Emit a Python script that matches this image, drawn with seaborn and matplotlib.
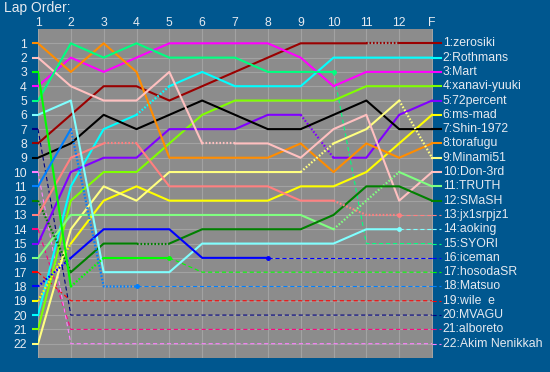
import numpy as np
import pandas as pd
import seaborn as sns
import matplotlib.pyplot as plt

lap_labels = ["1", "2", "3", "4", "5", "6", "7", "8", "9", "10", "11", "12", "F"]

# position of each driver at the end of laps 1..12 and at the finish
zerosiki = [8, 6, 4, 4, 5, 4, 3, 2, 1, 1, 1, 1, 1]
rothmans = [20, 11, 7, 6, 4, 3, 4, 4, 4, 2, 2, 2, 2]
mart = [4, 2, 3, 2, 1, 1, 1, 1, 2, 4, 3, 3, 3]
xanavi = [21, 12, 10, 10, 8, 6, 5, 5, 5, 5, 4, 4, 4]
percent72 = [15, 10, 9, 9, 7, 7, 7, 6, 6, 9, 9, 6, 5]
msmad = [19, 15, 12, 11, 12, 12, 12, 12, 11, 11, 10, 8, 6]
shin = [9, 8, 6, 7, 6, 5, 6, 7, 7, 6, 5, 7, 7]
torafugu = [1, 3, 1, 3, 9, 9, 9, 9, 8, 10, 8, 9, 8]
minami = [22, 14, 11, 12, 10, 10, 10, 10, 10, 8, 7, 5, 9]
don = [2, 4, 5, 5, 3, 8, 8, 8, 9, 7, 6, 12, 10]
truth = [16, 13, 13, 13, 13, 13, 13, 13, 13, 14, 12, 10, 11]
smash = [12, 17, 15, 15, 15, 14, 14, 14, 14, 13, 11, 11, 12]
jx1 = [13, 9, 8, 8, 11, 11, 11, 11, 12, 12, 13, 13, 13]
aoking = [6, 5, 17, 17, 17, 15, 15, 15, 15, 15, 14, 14, 14]
syori = [5, 1, 2, 1, 2, 2, 2, 3, 3, 3, 15, 15, 15]
iceman = [18, 16, 14, 14, 14, 16, 16, 16, 16, 16, 16, 16, 16]
hosoda = [3, 18, 16, 16, 16, 17, 17, 17, 17, 17, 17, 17, 17]
matsuo = [11, 7, 18, 18, 18, 18, 18, 18, 18, 18, 18, 18, 18]
wile = [17, 19, 19, 19, 19, 19, 19, 19, 19, 19, 19, 19, 19]
mvagu = [7, 20, 20, 20, 20, 20, 20, 20, 20, 20, 20, 20, 20]
alboreto = [14, 21, 21, 21, 21, 21, 21, 21, 21, 21, 21, 21, 21]
akim = [10, 22, 22, 22, 22, 22, 22, 22, 22, 22, 22, 22, 22]

names = ["zerosiki", "Rothmans", "Mart", "xanavi-yuuki", "72percent", "ms-mad",
         "Shin-1972", "torafugu", "Minami51", "Don-3rd", "TRUTH", "SMaSH",
         "jx1srpjz1", "aoking", "SYORI", "iceman", "hosodaSR", "Matsuo",
         "wile  e", "MVAGU", "alboreto", "Akim Nenikkah"]
series = [zerosiki, rothmans, mart, xanavi, percent72, msmad, shin, torafugu,
          minami, don, truth, smash, jx1, aoking, syori, iceman, hosoda,
          matsuo, wile, mvagu, alboreto, akim]

# lap after which the driver dropped out
retired = {"jx1srpjz1": 12, "aoking": 12, "SYORI": 10, "iceman": 8,
           "hosodaSR": 5, "Matsuo": 4, "wile  e": 1, "MVAGU": 1,
           "alboreto": 1, "Akim Nenikkah": 1}
# dotted lap segments (segment i runs from lap i to lap i+1)
dotted = {"zerosiki": [11], "Rothmans": [4], "72percent": [9], "ms-mad": [1],
          "Minami51": [9, 12], "Don-3rd": [6], "TRUTH": [10, 11],
          "SMaSH": [1, 4], "jx1srpjz1": [3, 10, 11], "iceman": [1],
          "hosodaSR": [2], "Matsuo": [2, 3]}

colors = ["#9a0000", "#00ffff", "#ff00ff", "#80ff00", "#8000ff", "#ffff00",
          "#000000", "#ff8c00", "#ffff80", "#ffc0c0", "#80ff80", "#008000",
          "#ff8080", "#80ffff", "#00ff80", "#0000ff", "#00ff00", "#0080ff",
          "#ff0000", "#000080", "#ff0080", "#ff80ff"]

bg = "#00578f"
txt = "#e6eaf0"
plt.rcParams["font.family"] = ["Liberation Sans", "DejaVu Sans"]
plt.rcParams["lines.scale_dashes"] = False

fig = plt.figure(figsize=[5.5, 3.72], dpi=100, facecolor=bg)
ax = fig.add_axes([38 / 550, 1 - 358 / 372, 395 / 550, 329 / 372])
ax.set_facecolor("#8c8c8c")
for s in ax.spines.values():
    s.set_visible(False)

laps = np.arange(1, 14)
ax.set_xlim(1, 13.03)
ax.set_ylim(23, 0)
ax.set_xticks(laps)
ax.set_xticklabels(lap_labels)
ax.set_yticks(np.arange(1, 23))
ax.set_yticklabels([str(i) for i in range(1, 23)])
ax.xaxis.tick_top()
ax.tick_params(axis="x", length=0, pad=0.3, labelsize=8.8, labelcolor=txt)
ax.tick_params(axis="y", length=0, pad=8, labelsize=8.8, labelcolor=txt)
ax.grid(True, color="#a2a2a2", lw=0.8)
ax.set_axisbelow(True)

def seg_style(name, i):
    r = retired.get(name)
    if r is not None and i >= r:
        return "dashed"
    if i in dotted.get(name, []):
        return "dotted"
    return "solid"

styles = {"solid": dict(lw=1.5, linestyle="-", zorder=3),
          "dotted": dict(lw=1.6, linestyle=(0, (1.2, 1.3)), zorder=3),
          "dashed": dict(lw=0.8, linestyle=(0, (3, 2)), zorder=2)}

for k, (name, pos, c) in enumerate(zip(names, series, colors)):
    # group consecutive segments with the same style
    runs = []
    for i in range(1, 13):
        st = seg_style(name, i)
        if runs and runs[-1][0] == st:
            runs[-1][2] = i + 1
        else:
            runs.append([st, i, i + 1])
    for st, a, b in runs:
        d = pd.DataFrame({"lap": laps[a - 1:b], "pos": pos[a - 1:b]})
        sns.lineplot(data=d, x="lap", y="pos", color=c, sort=False,
                     estimator=None, ax=ax, **styles[st])
    r = retired.get(name)
    if r is not None and r > 1:
        ax.plot(r, pos[r - 1], "o", color=c, ms=2.5, zorder=4)
    # start tick in the left margin
    ax.plot([0.82, 1.0], [pos[0], pos[0]], color=c, lw=1.5, clip_on=False,
            solid_capstyle="butt", zorder=3)
    # finish tick and name on the right
    fin = styles["dashed"] if r is not None else styles["solid"]
    ax.plot([13.0, 13.27], [pos[-1], pos[-1]], color=c, clip_on=False,
            lw=fin["lw"], linestyle=fin["linestyle"], zorder=3)
    ax.text(13.33, pos[-1], f"{k + 1}:{name}", color=txt, fontsize=8.8,
            va="center", ha="left", clip_on=False)

ax.set_xlabel("")
ax.set_ylabel("")
fig.text(4 / 550, 1 - 8 / 372, "Lap Order:", color=txt, fontsize=10,
         va="center", ha="left")

fig.savefig("out.png", dpi=100, facecolor=bg)
